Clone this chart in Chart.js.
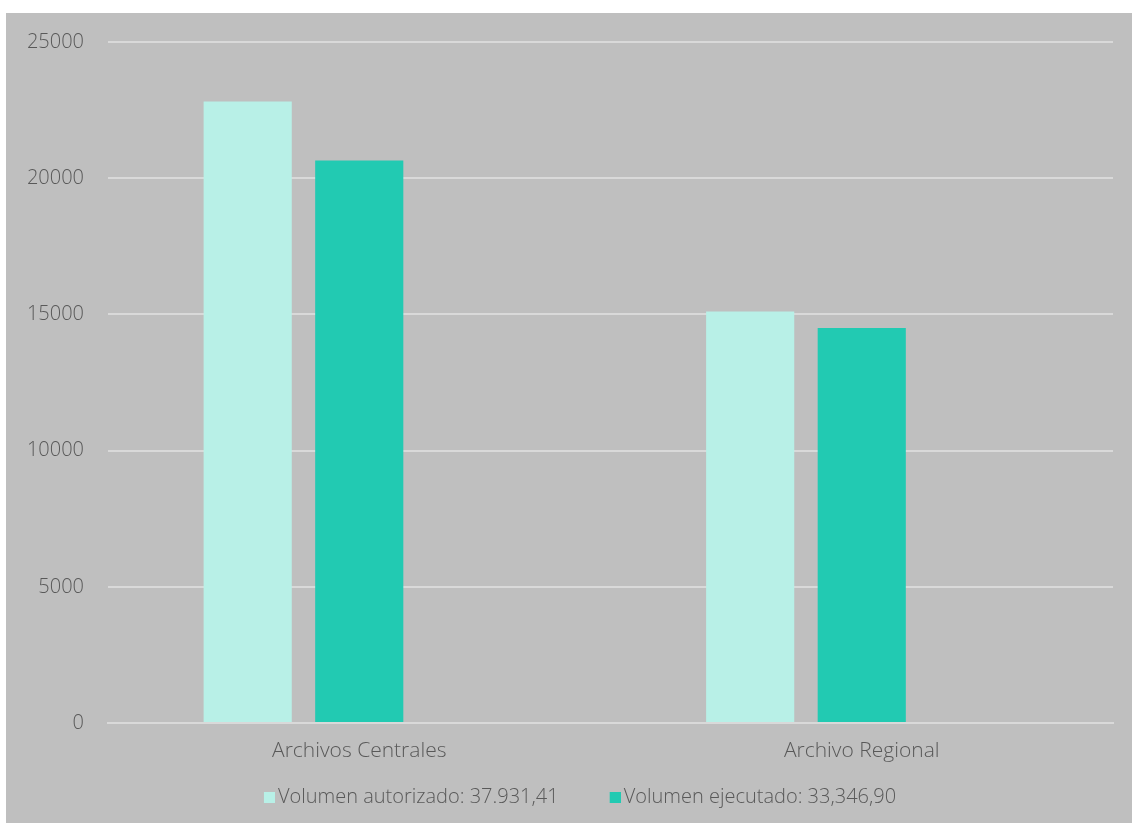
<!DOCTYPE html>
<html>
<head>
<meta charset="utf-8">
<script src="https://cdn.jsdelivr.net/npm/chart.js@4/dist/chart.umd.min.js"></script>
<style>
  html, body { margin: 0; padding: 0; background: #ffffff; }
  #bg { position: absolute; left: 6px; top: 13px; width: 1126px; height: 810px; background: #bfbfbf; }
  #wrap { position: absolute; left: 6px; top: 6px; width: 1126px; height: 817px; }
</style>
</head>
<body>
<div id="bg"></div>
<div id="wrap"><canvas id="chart"></canvas></div>
<script>
// Data
const categories = ['Archivos Centrales', 'Archivo Regional'];
const autorizado = [22820, 15110];
const ejecutado = [20650, 14500];
const serieVacia = [null, null]; // empty third series keeps the bar groups shifted left
const seriesLabels = ['Volumen autorizado: 37.931,41', 'Volumen ejecutado: 33,346,90', ''];
const yTicks = [0, 5000, 10000, 15000, 20000, 25000];

const textColor = '#595959';
const gridColor = '#d9d9d9';
const lightColor = '#b8f0e7';
const darkColor = '#22cab2';
const fontFamily = '"Open Sans", sans-serif';

Chart.defaults.font.family = fontFamily;
Chart.defaults.font.weight = '300';
Chart.defaults.color = textColor;

// legend marker: small square sitting at the right end of a wider transparent strip,
// so the square sits close to its text and items get a wide gap between them
const MARK_SLOT = 45;
function legendMark(color) {
    const c = document.createElement('canvas');
    c.width = MARK_SLOT + 14;
    c.height = 11;
    const g = c.getContext('2d');
    g.fillStyle = color;
    g.fillRect(c.width - 11, 0, 11, 11);
    return c;
}

const ctx = document.getElementById('chart').getContext('2d');

new Chart(ctx, {
    type: 'bar',
    data: {
        labels: categories,
        datasets: [
            { label: seriesLabels[0], data: autorizado, backgroundColor: lightColor, pointStyle: legendMark(lightColor) },
            { label: seriesLabels[1], data: ejecutado, backgroundColor: darkColor, pointStyle: legendMark(darkColor) },
            { label: seriesLabels[2], data: serieVacia, backgroundColor: 'rgba(0,0,0,0)' }
        ]
    },
    options: {
        responsive: true,
        maintainAspectRatio: false,
        animation: false,
        categoryPercentage: 0.666,
        barPercentage: 0.79,
        layout: {
            padding: { left: 0, right: 19, top: 0, bottom: 6 }
        },
        scales: {
            x: {
                grid: { display: false, drawTicks: false },
                border: { display: true, color: gridColor, width: 2 },
                ticks: { padding: 15, font: { size: 21 }, color: textColor },
                afterFit: function (scale) { scale.height = 54; }
            },
            y: {
                min: yTicks[0],
                max: yTicks[yTicks.length - 1],
                ticks: {
                    stepSize: 5000,
                    padding: 24,
                    font: { size: 20 },
                    color: textColor,
                    callback: value => String(value)
                },
                grid: { color: gridColor, lineWidth: 2, drawTicks: false },
                border: { display: false },
                afterFit: function (scale) { scale.width = 102; }
            }
        },
        plugins: {
            tooltip: { enabled: false },
            legend: {
                position: 'bottom',
                labels: {
                    usePointStyle: true,
                    pointStyleWidth: MARK_SLOT,
                    boxHeight: 11,
                    padding: 10,
                    font: { size: 20 },
                    color: textColor,
                    filter: item => item.text !== ''
                }
            }
        }
    }
});
</script>
</body>
</html>
